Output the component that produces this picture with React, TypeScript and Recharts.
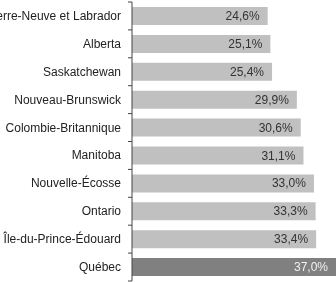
import { BarChart, Bar, XAxis, YAxis, Cell, LabelList } from "recharts"

const provinces = [
  "Terre-Neuve et Labrador",
  "Alberta",
  "Saskatchewan",
  "Nouveau-Brunswick",
  "Colombie-Britannique",
  "Manitoba",
  "Nouvelle-Écosse",
  "Ontario",
  "Île-du-Prince-Édouard",
  "Québec",
]
const rates = [24.6, 25.1, 25.4, 29.9, 30.6, 31.1, 33.0, 33.3, 33.4, 37.0]
const highlight = "Québec"

const data = provinces.map((name, i) => ({ name, value: rates[i] }))

const fmt = (v: number) => v.toFixed(1).replace(".", ",") + "%"

const AXIS_X = 132
const BAND = 279 / provinces.length

// tick marks sit between categories, not on them
function ProvinceTick(props: any) {
  const { y, payload, index } = props
  const top = y - BAND / 2
  return (
    <g>
      <line x1={AXIS_X - 4} x2={AXIS_X} y1={top} y2={top} stroke="#444" />
      {index === provinces.length - 1 && (
        <line x1={AXIS_X - 4} x2={AXIS_X} y1={top + BAND} y2={top + BAND} stroke="#444" />
      )}
      <text x={AXIS_X - 11} y={y} dy={4} textAnchor="end" fontSize={12} fill="#222">
        {payload.value}
      </text>
    </g>
  )
}

function ValueLabel(props: any) {
  const { x, y, width, height, value, index } = props
  const hl = provinces[index] === highlight
  return (
    <text
      x={x + width - 8}
      y={y + height / 2}
      dy={4}
      textAnchor="end"
      fontSize={12}
      fill={hl ? "#f0f0f0" : "#333"}
    >
      {fmt(value)}
    </text>
  )
}

export default function App() {
  return (
    <div style={{ position: "fixed", left: 0, top: 0, fontFamily: "'Liberation Sans', Arial, sans-serif" }}>
      <BarChart
        width={336}
        height={282}
        data={data}
        layout="vertical"
        margin={{ top: 2, right: 0, bottom: 1, left: 0 }}
      >
        <XAxis type="number" domain={[0, 36.8]} hide />
        <YAxis
          type="category"
          dataKey="name"
          width={132}
          axisLine={{ stroke: "#444" }}
          tickLine={false}
          tick={<ProvinceTick />}
          interval={0}
        />
        <Bar dataKey="value" barSize={18} isAnimationActive={false}>
          {data.map(d => (
            <Cell key={d.name} fill={d.name === highlight ? "#808080" : "#c0c0c0"} />
          ))}
          <LabelList dataKey="value" content={<ValueLabel />} />
        </Bar>
      </BarChart>
    </div>
  )
}
